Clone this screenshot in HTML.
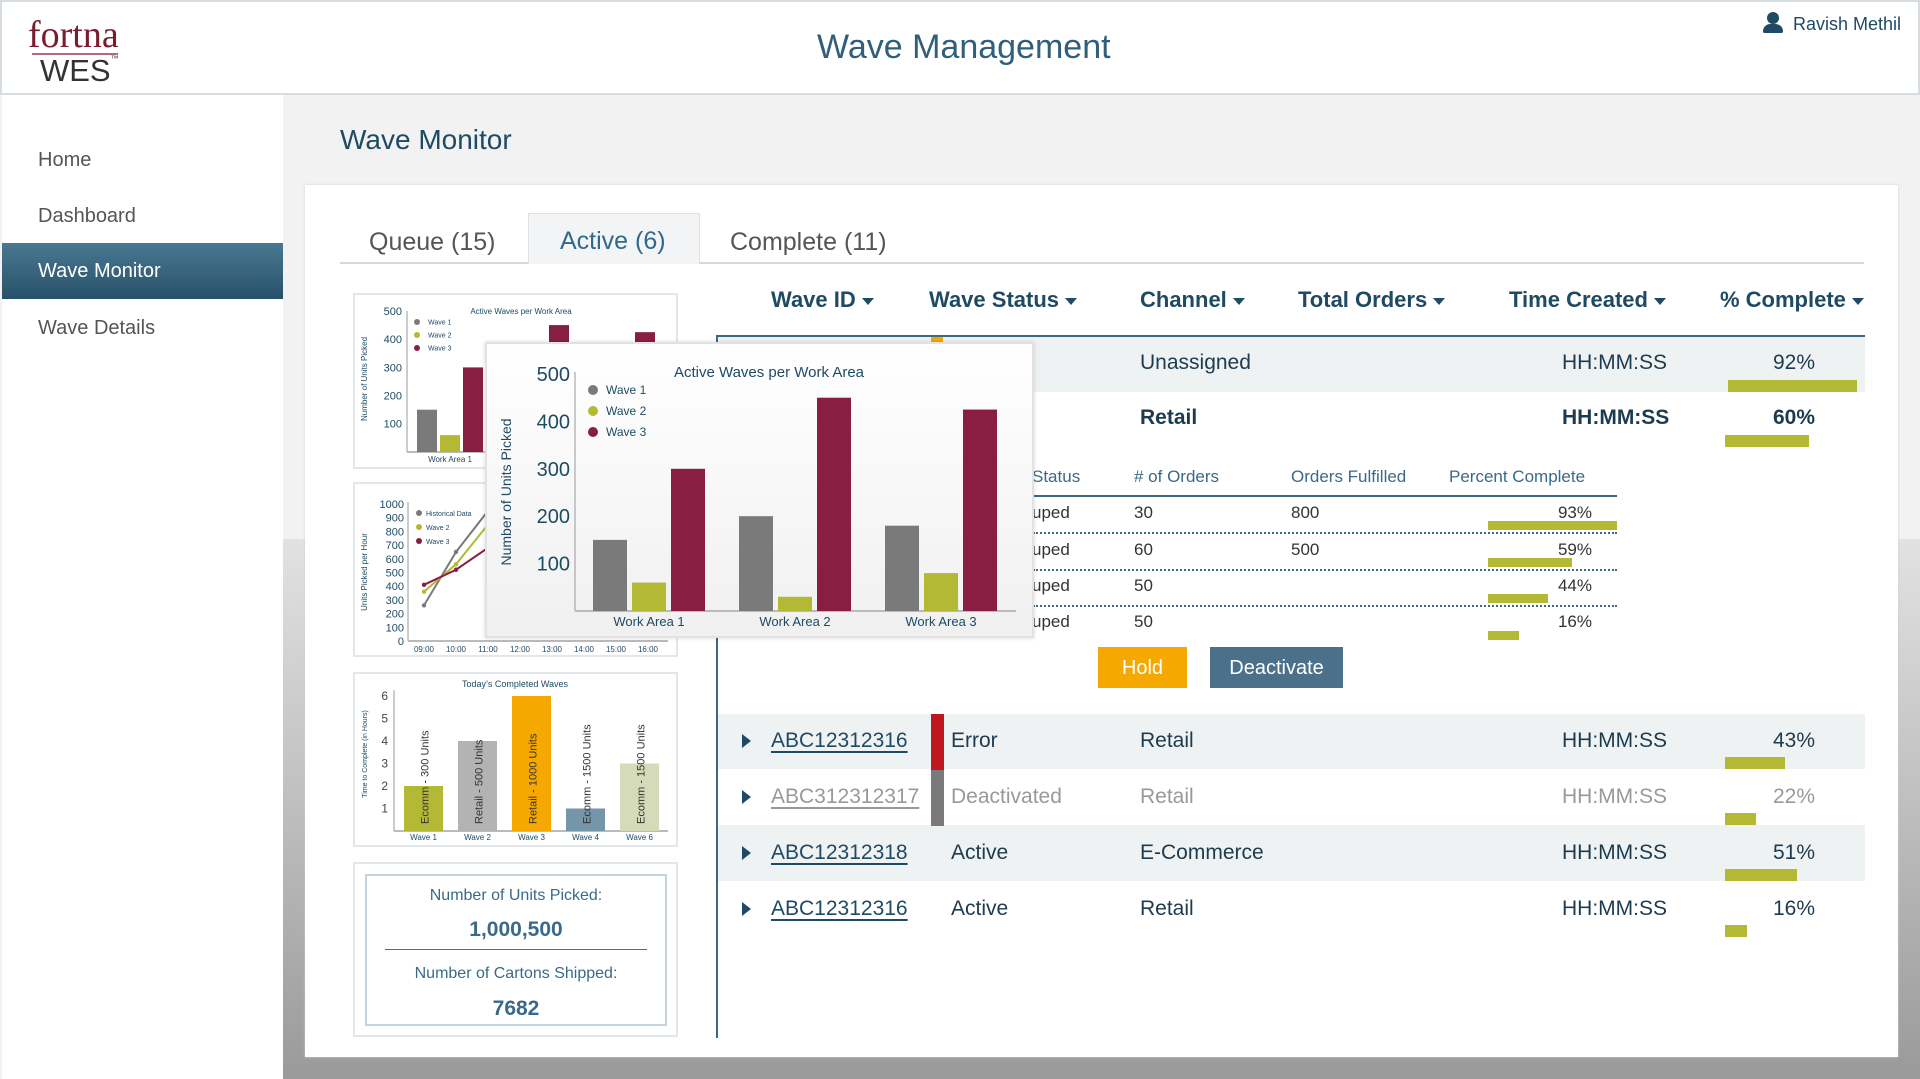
<!DOCTYPE html>
<html><head><meta charset="utf-8">
<style>
*{margin:0;padding:0;box-sizing:border-box}
body{width:1920px;height:1079px;position:relative;overflow:hidden;font-family:"Liberation Sans",sans-serif;background:#f2f2f2}
.a{position:absolute}
.t{position:absolute;white-space:nowrap;line-height:1}
#header{left:0;top:0;width:1920px;height:95px;background:#fff;border:2px solid #d6dde2}
#sidebar{left:2px;top:95px;width:281px;height:984px;background:#fff}
.nav{position:absolute;left:36px;font-size:20px;color:#555}
#bgbot{left:283px;top:539px;width:1637px;height:540px;background:linear-gradient(#e2e2e2,#9a9a9a)}
#card{left:305px;top:185px;width:1593px;height:872px;background:#fff;box-shadow:0 0 2px #ccc}
.tab{position:absolute;font-size:25px;color:#555}
.box{position:absolute;background:#fff;border:2px solid #e4e7ea}
.th{position:absolute;font-size:22px;font-weight:bold;color:#1e4a63;white-space:nowrap;line-height:1}
.tri{display:inline-block;border-left:8px solid #1e4a63;border-top:5px solid transparent;border-bottom:5px solid transparent;margin-left:6px;vertical-align:middle}
.td{position:absolute;font-size:21px;color:#1c3b4f;white-space:nowrap;line-height:1}
.bar{position:absolute;background:#b4b935;height:12px}
.sub{position:absolute;font-size:17px;color:#3a6a88;white-space:nowrap;line-height:1}
.sd{position:absolute;font-size:17px;color:#333;white-space:nowrap;line-height:1}
.dots{position:absolute;left:1033px;width:584px;border-top:2px dotted #3a6a88}
.idl{text-decoration:underline;text-underline-offset:4px;text-decoration-thickness:2px}
.arrow{position:absolute;left:742px;border-left:9px solid #1e4a63;border-top:7px solid transparent;border-bottom:7px solid transparent}
</style></head><body>
<div id="header" class="a">
  <div class="t" style="left:26px;top:14px;font-family:'Liberation Serif',serif;font-size:38px;color:#7a1c30">fortna</div>
  <div class="a" style="left:30px;top:51px;width:86px;height:2px;background:#b06a7a"></div>
  <div class="t" style="left:38px;top:53px;font-size:31px;color:#333">WES<span style="font-size:8px;vertical-align:top">™</span></div>
  <div class="t" style="left:815px;top:28px;font-size:34px;color:#2f5f7a">Wave Management</div>
  <div class="a" style="left:1761px;top:10px;width:20px;height:20px">
    <div class="a" style="left:4px;top:0;width:12px;height:12px;border-radius:50%;background:#1e4a63"></div>
    <div class="a" style="left:0;top:12px;width:20px;height:9px;border-radius:9px 9px 2px 2px;background:#1e4a63"></div>
  </div>
  <div class="t" style="left:1791px;top:13px;font-size:18px;color:#1e4a63">Ravish Methil</div>
</div>
<div id="sidebar" class="a">
  <div class="nav" style="top:54px">Home</div>
  <div class="nav" style="top:110px">Dashboard</div>
  <div class="a" style="left:0;top:148px;width:281px;height:56px;background:linear-gradient(#4a7892,#275168)">
    <div class="t" style="left:36px;top:18px;font-size:20px;color:#fff">Wave Monitor</div></div>
  <div class="nav" style="top:222px">Wave Details</div>
</div>
<div id="bgbot" class="a"></div>
<div class="t" style="left:340px;top:126px;font-size:28px;color:#1e4a63">Wave Monitor</div>
<div id="card" class="a"></div>

<div class="a" style="left:340px;top:262px;width:1524px;height:2px;background:#d8d8d8"></div>
<div class="tab" style="left:369px;top:228px">Queue (15)</div>
<div class="a" style="left:528px;top:213px;width:172px;height:51px;background:#f2f4f5;border:1px solid #dde1e4;border-bottom:none">
  <div class="t" style="left:31px;top:15px;font-size:25px;color:#2f6a8c">Active (6)</div></div>
<div class="tab" style="left:730px;top:228px">Complete (11)</div>

<div class="box" style="left:353px;top:293px;width:325px;height:176px"><svg id="c1" width="325" height="176" style="position:absolute;left:-2px;top:-2px"></svg></div>
<div class="box" style="left:353px;top:482px;width:325px;height:175px"><svg id="c2" width="325" height="175" style="position:absolute;left:-2px;top:-2px"></svg></div>
<div class="box" style="left:353px;top:672px;width:325px;height:175px"><svg id="c3" width="325" height="175" style="position:absolute;left:-2px;top:-2px"></svg></div>
<div class="box" style="left:353px;top:862px;width:325px;height:175px">
  <div class="a" style="left:10px;top:10px;width:302px;height:152px;border:2px solid #c5d3dc">
    <div class="t" style="width:100%;text-align:center;top:12px;font-size:16px;color:#3a6a88">Number of Units Picked:</div>
    <div class="t" style="width:100%;text-align:center;top:43px;font-size:21px;font-weight:bold;color:#3a6a88">1,000,500</div>
    <div class="a" style="left:18px;top:73px;width:262px;height:1px;background:#666"></div>
    <div class="t" style="width:100%;text-align:center;top:90px;font-size:16px;color:#3a6a88">Number of Cartons Shipped:</div>
    <div class="t" style="width:100%;text-align:center;top:122px;font-size:21px;font-weight:bold;color:#3a6a88">7682</div>
  </div>
</div>

<div class="a" style="left:716px;top:336px;width:2px;height:702px;background:#3d6880"></div>
<div class="th" style="left:771px;top:289px">Wave ID<span class="tri" style="border:none;border-top:7px solid #1e4a63;border-left:6px solid transparent;border-right:6px solid transparent"></span></div>
<div class="th" style="left:929px;top:289px">Wave Status<span class="tri" style="border:none;border-top:7px solid #1e4a63;border-left:6px solid transparent;border-right:6px solid transparent"></span></div>
<div class="th" style="left:1140px;top:289px">Channel<span class="tri" style="border:none;border-top:7px solid #1e4a63;border-left:6px solid transparent;border-right:6px solid transparent"></span></div>
<div class="th" style="left:1298px;top:289px">Total Orders<span class="tri" style="border:none;border-top:7px solid #1e4a63;border-left:6px solid transparent;border-right:6px solid transparent"></span></div>
<div class="th" style="left:1509px;top:289px">Time Created<span class="tri" style="border:none;border-top:7px solid #1e4a63;border-left:6px solid transparent;border-right:6px solid transparent"></span></div>
<div class="th" style="left:1720px;top:289px">% Complete<span class="tri" style="border:none;border-top:7px solid #1e4a63;border-left:6px solid transparent;border-right:6px solid transparent"></span></div>
<div class="a" style="left:716px;top:335px;width:1149px;height:2px;background:#3d6880"></div>

<div class="a" style="left:718px;top:337px;width:1147px;height:55px;background:#eff2f3"></div>
<div class="a" style="left:931px;top:337px;width:12px;height:8px;background:#f5a800"></div>
<div class="td" style="left:1140px;top:352px">Unassigned</div>
<div class="td" style="left:1562px;top:352px">HH:MM:SS</div>
<div class="td" style="left:1773px;top:352px">92%</div>
<div class="bar" style="left:1728px;top:380px;width:129px"></div>
<div class="td" style="left:1140px;top:407px;font-weight:bold">Retail</div>
<div class="td" style="left:1562px;top:407px;font-weight:bold">HH:MM:SS</div>
<div class="td" style="left:1773px;top:407px;font-weight:bold">60%</div>
<div class="bar" style="left:1725px;top:435px;width:84px"></div>

<div class="sub" style="left:1032px;top:468px">Status</div>
<div class="sub" style="left:1134px;top:468px">&#35; of Orders</div>
<div class="sub" style="left:1291px;top:468px">Orders Fulfilled</div>
<div class="sub" style="left:1449px;top:468px">Percent Complete</div>
<div class="a" style="left:1033px;top:495px;width:584px;height:2px;background:#3d6880"></div>
<div class="sd" style="left:1032px;top:504px">uped</div><div class="sd" style="left:1134px;top:504px">30</div><div class="sd" style="left:1291px;top:504px">800</div><div class="sd" style="left:1540px;top:504px;width:52px;text-align:right">93%</div>
<div class="bar" style="left:1488px;top:521px;width:129px;height:9px"></div>
<div class="dots" style="top:532px"></div>
<div class="sd" style="left:1032px;top:541px">uped</div><div class="sd" style="left:1134px;top:541px">60</div><div class="sd" style="left:1291px;top:541px">500</div><div class="sd" style="left:1540px;top:541px;width:52px;text-align:right">59%</div>
<div class="bar" style="left:1488px;top:558px;width:84px;height:9px"></div>
<div class="dots" style="top:569px"></div>
<div class="sd" style="left:1032px;top:577px">uped</div><div class="sd" style="left:1134px;top:577px">50</div><div class="sd" style="left:1540px;top:577px;width:52px;text-align:right">44%</div>
<div class="bar" style="left:1488px;top:594px;width:60px;height:9px"></div>
<div class="dots" style="top:605px"></div>
<div class="sd" style="left:1032px;top:613px">uped</div><div class="sd" style="left:1134px;top:613px">50</div><div class="sd" style="left:1540px;top:613px;width:52px;text-align:right">16%</div>
<div class="bar" style="left:1488px;top:631px;width:31px;height:9px"></div>
<div class="a" style="left:1098px;top:647px;width:89px;height:41px;background:#f5a800"><div class="t" style="width:100%;text-align:center;top:11px;font-size:20px;color:#fff">Hold</div></div>
<div class="a" style="left:1210px;top:647px;width:133px;height:41px;background:#4a7189"><div class="t" style="width:100%;text-align:center;top:11px;font-size:20px;color:#fff">Deactivate</div></div>

<div class="a" style="left:718px;top:714px;width:1147px;height:55px;background:#eff2f3"></div>
<div class="a" style="left:718px;top:825px;width:1147px;height:56px;background:#eff2f3"></div>
<div class="a" style="left:931px;top:714px;width:13px;height:56px;background:#c0161f"></div>
<div class="a" style="left:931px;top:770px;width:13px;height:56px;background:#7a7a7a"></div>
<div class="arrow" style="top:734px"></div>
<div class="arrow" style="top:790px"></div>
<div class="arrow" style="top:846px"></div>
<div class="arrow" style="top:902px"></div>
<div class="td idl" style="left:771px;top:730px;color:#1e4a63">ABC12312316</div>
<div class="td" style="left:951px;top:730px">Error</div><div class="td" style="left:1140px;top:730px">Retail</div><div class="td" style="left:1562px;top:730px">HH:MM:SS</div><div class="td" style="left:1773px;top:730px">43%</div>
<div class="bar" style="left:1725px;top:757px;width:60px"></div>
<div class="td idl" style="left:771px;top:786px;color:#999">ABC312312317</div>
<div class="td" style="left:951px;top:786px;color:#999">Deactivated</div><div class="td" style="left:1140px;top:786px;color:#999">Retail</div><div class="td" style="left:1562px;top:786px;color:#999">HH:MM:SS</div><div class="td" style="left:1773px;top:786px;color:#999">22%</div>
<div class="bar" style="left:1725px;top:813px;width:31px"></div>
<div class="td idl" style="left:771px;top:842px;color:#1e4a63">ABC12312318</div>
<div class="td" style="left:951px;top:842px">Active</div><div class="td" style="left:1140px;top:842px">E-Commerce</div><div class="td" style="left:1562px;top:842px">HH:MM:SS</div><div class="td" style="left:1773px;top:842px">51%</div>
<div class="bar" style="left:1725px;top:869px;width:72px"></div>
<div class="td idl" style="left:771px;top:898px;color:#1e4a63">ABC12312316</div>
<div class="td" style="left:951px;top:898px">Active</div><div class="td" style="left:1140px;top:898px">Retail</div><div class="td" style="left:1562px;top:898px">HH:MM:SS</div><div class="td" style="left:1773px;top:898px">16%</div>
<div class="bar" style="left:1725px;top:925px;width:22px"></div>

<div class="a" style="left:485px;top:342px;width:549px;height:296px;background:linear-gradient(#fff,#f0f0f0);border:2px solid #e2e2e2;box-shadow:0 0 4px rgba(0,0,0,.15)"><svg id="c0" width="549" height="296" style="position:absolute;left:-2px;top:-2px"></svg></div>

<script>
const areaCats=["Work Area 1","Work Area 2","Work Area 3"];
const wave1=[150,200,180];
const wave2=[60,30,80];
const wave3=[300,450,425];
const unitTicks=[100,200,300,400,500];
const hourCats=["09:00","10:00","11:00","12:00","13:00","14:00","15:00","16:00"];
const histData=[260,650,950,980,990,1000,1000,1000];
const lineWave2=[360,560,850,900,920,930,940,950];
const lineWave3=[410,520,680,750,800,820,840,860];
const hourTicks=[0,100,200,300,400,500,600,700,800,900,1000];
const doneCats=["Wave 1","Wave 2","Wave 3","Wave 4","Wave 6"];
const doneHours=[2,4,6,1,3];
const doneLabels=["Ecomm - 300 Units","Retail - 500 Units","Retail - 1000 Units","Ecomm - 1500 Units","Ecomm - 1500 Units"];
const hourAxisTicks=[1,2,3,4,5,6];

const NS="http://www.w3.org/2000/svg";
const COL=["#7a7a7a","#b4b935","#8a1e42"];
const TXT="#1e4a63";
function mk(svg,tag,at,txt){const e=document.createElementNS(NS,tag);for(const k in at)e.setAttribute(k,at[k]);if(txt!==undefined)e.textContent=txt;svg.appendChild(e);return e;}

function barChart(id,o){
  const s=document.getElementById(id);
  const y=v=>o.base-v*o.k;
  mk(s,"line",{x1:o.ax,y1:o.top,x2:o.ax,y2:o.base,stroke:"#999","stroke-width":1});
  mk(s,"line",{x1:o.ax,y1:o.base,x2:o.right,y2:o.base,stroke:"#bbb","stroke-width":2});
  unitTicks.forEach(t=>{const tx=mk(s,"text",{x:o.ax-5,y:y(t)+o.tf*0.35,"text-anchor":"end","font-size":o.tf,fill:TXT,"font-family":"Liberation Sans"},t);
    
    });
  [wave1,wave2,wave3].forEach((ser,si)=>ser.forEach((v,ci)=>{
    const r=mk(s,"rect",{x:o.g0+ci*o.gs+si*o.bs,y:y(v),width:o.bw,height:v*o.k,fill:COL[si]});
    
    
  }));
  areaCats.forEach((c,ci)=>{const tx=mk(s,"text",{x:o.g0+ci*o.gs+o.bs+o.bw/2,y:o.base+o.cf+2,"text-anchor":"middle","font-size":o.cf,fill:TXT,"font-family":"Liberation Sans"},c);
    
    });
  const tt=mk(s,"text",{x:o.tx,y:o.ty,"text-anchor":"middle","font-size":o.ttf,fill:TXT,"font-family":"Liberation Sans"},"Active Waves per Work Area");
  
  
  const yt=mk(s,"text",{x:0,y:0,transform:`translate(${o.ytx},${o.yty}) rotate(-90)`,"text-anchor":"middle","font-size":o.ytf,fill:TXT,"font-family":"Liberation Sans"},"Number of Units Picked");
  
  
  ["Wave 1","Wave 2","Wave 3"].forEach((n,i)=>{mk(s,"circle",{cx:o.lx,cy:o.ly+i*o.lg,r:o.lr,fill:COL[i]});
    const tx=mk(s,"text",{x:o.lx+o.lr+8,y:o.ly+i*o.lg+o.lf*0.35,"font-size":o.lf,fill:TXT,"font-family":"Liberation Sans"},n);
    
    });
}
barChart("c0",{ax:90,base:269,top:30,right:531,k:0.474,g0:108,gs:146,bs:39,bw:34,tf:20,cf:13,tx:284,ty:35,ttf:15,ytx:26,yty:150,ytf:14,lx:108,ly:48,lg:21,lr:5,lf:12});
barChart("c1",{ax:54,base:159,top:18,right:322,k:0.282,g0:64,gs:86,bs:23,bw:20,tf:11,cf:8,tx:168,ty:21,ttf:8,ytx:14,yty:86,ytf:8,lx:64,ly:29,lg:13,lr:3,lf:7});

(function(){
  const s=document.getElementById("c2");
  const ax=55, base=159, k=0.137, x0=71, dx=32;
  const y=v=>base-v*k, x=i=>x0+i*dx;
  mk(s,"line",{x1:ax,y1:20,x2:ax,y2:base,stroke:"#999"});
  mk(s,"line",{x1:ax,y1:base,x2:315,y2:base,stroke:"#bbb","stroke-width":2});
  hourTicks.forEach(t=>{const tx=mk(s,"text",{x:ax-4,y:y(t)+4,"text-anchor":"end","font-size":11,fill:TXT,"font-family":"Liberation Sans"},t);
    
    });
  hourCats.forEach((c,i)=>{const tx=mk(s,"text",{x:x(i),y:base+11,"text-anchor":"middle","font-size":8,fill:TXT,"font-family":"Liberation Sans"},c);
    
    });
  [histData,lineWave2,lineWave3].forEach((ser,si)=>{
    const p=mk(s,"polyline",{points:ser.map((v,i)=>x(i)+","+y(v)).join(" "),fill:"none",stroke:COL[si],"stroke-width":2});
    
    
    ser.forEach((v,i)=>mk(s,"circle",{cx:x(i),cy:y(v),r:2.2,fill:COL[si]}));
  });
  const yt=mk(s,"text",{x:0,y:0,transform:"translate(14,90) rotate(-90)","text-anchor":"middle","font-size":8,fill:TXT,"font-family":"Liberation Sans"},"Units Picked per Hour");
  
  
  ["Historical Data","Wave 2","Wave 3"].forEach((n,i)=>{mk(s,"circle",{cx:66,cy:31+i*14,r:3,fill:COL[i]});
    const tx=mk(s,"text",{x:73,y:34+i*14,"font-size":7,fill:TXT,"font-family":"Liberation Sans"},n);
    
    });
})();

(function(){
  const s=document.getElementById("c3");
  const ax=41, base=159, k=22.5, x0=51, gs=54, bw=39;
  const y=v=>base-v*k;
  const cols=["#b4b935","#b3b3b3","#f5a800","#7596a9","#d5dbb9"];
  mk(s,"line",{x1:ax,y1:18,x2:ax,y2:base,stroke:"#999"});
  mk(s,"line",{x1:ax,y1:base,x2:315,y2:base,stroke:"#bbb","stroke-width":2});
  hourAxisTicks.forEach(t=>{const tx=mk(s,"text",{x:ax-6,y:y(t)+4,"text-anchor":"end","font-size":12,fill:"#444","font-family":"Liberation Sans"},t);
    
    });
  doneHours.forEach((v,i)=>{
    const bx=x0+i*gs;
    const r=mk(s,"rect",{x:bx,y:y(v),width:bw,height:v*k,fill:cols[i]});
    
    
    mk(s,"text",{x:0,y:0,transform:`translate(${bx+bw/2+5},${base-7}) rotate(-90)`,"font-size":11,fill:"#333","font-family":"Liberation Sans"},doneLabels[i]);
    const tx=mk(s,"text",{x:bx+bw/2,y:base+9,"text-anchor":"middle","font-size":8,fill:TXT,"font-family":"Liberation Sans"},doneCats[i]);
    
    
  });
  const tt=mk(s,"text",{x:162,y:15,"text-anchor":"middle","font-size":9,fill:TXT,"font-family":"Liberation Sans"},"Today’s Completed Waves");
  
  
  const yt=mk(s,"text",{x:0,y:0,transform:"translate(14,82) rotate(-90)","text-anchor":"middle","font-size":7,fill:TXT,"font-family":"Liberation Sans"},"Time to Complete (in Hours)");
  
  
})();
</script>
</body></html>
